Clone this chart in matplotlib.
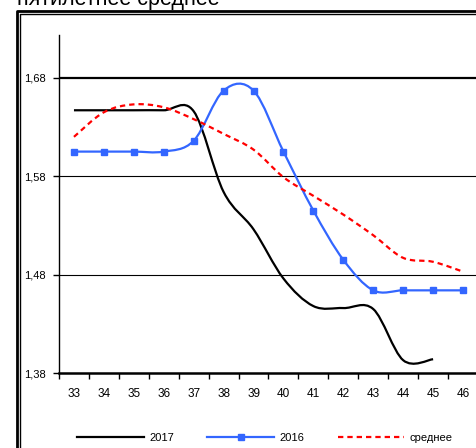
import matplotlib
matplotlib.use("Agg")
import matplotlib.pyplot as plt
from matplotlib.path import Path
from matplotlib.patches import PathPatch
from matplotlib.lines import Line2D
import numpy as np

plt.rcParams["font.family"] = ["Liberation Sans", "DejaVu Sans"]

# week numbers on the x axis
weeks = ["33", "34", "35", "36", "37", "38", "39", "40", "41", "42", "43", "44", "45", "46"]

# values
vals_2017 = [1.647, 1.647, 1.647, 1.647, 1.646, 1.564, 1.526, 1.476, 1.448, 1.446, 1.445, 1.393, 1.394]
vals_2016 = [1.605, 1.605, 1.605, 1.605, 1.616, 1.667, 1.667, 1.605, 1.545, 1.495, 1.464, 1.464, 1.464, 1.464]
vals_mean = [1.620, 1.645, 1.653, 1.650, 1.638, 1.623, 1.607, 1.579, 1.560, 1.541, 1.520, 1.497, 1.493, 1.483]

yticks = [1.38, 1.48, 1.58, 1.68]
ytick_labels = ["1,38", "1,48", "1,58", "1,68"]


def smooth_path(y):
    # excel-like smoothed line: catmull-rom segments as cubic bezier
    y = np.asarray(y, dtype=float)
    x = np.arange(len(y), dtype=float)
    pts = np.column_stack([x, y])
    ext = np.vstack([pts[0], pts, pts[-1]])
    verts = [pts[0]]
    codes = [Path.MOVETO]
    for i in range(len(pts) - 1):
        p0, p1, p2, p3 = ext[i], ext[i + 1], ext[i + 2], ext[i + 3]
        verts += [p1 + (p2 - p0) / 6, p2 - (p3 - p1) / 6, p2]
        codes += [Path.CURVE4] * 3
    return Path(verts, codes)


W, H = 477, 448
fig = plt.figure(figsize=(W / 100, H / 100), dpi=100)

# double frame around the chart area
for xs, ys, lw in [([17, 17, W + 5], [H + 5, 11, 11], 2.0), ([20, 20, W + 5], [H + 5, 14, 14], 1.0)]:
    fig.add_artist(Line2D([v / W for v in xs], [1 - v / H for v in ys], color="black", lw=lw,
                          transform=fig.transFigure))

# title sits mostly above the picture, as in the original screenshot
fig.text(17 / W, 1 - 4.5 / H, "пятилетнее среднее", fontsize=15.5, va="baseline", ha="left")

left, right, bottom, top = 59, 478, 373, 35
ax = fig.add_axes([left / W, 1 - bottom / H, (right - left) / W, (bottom - top) / H])
ax.set_xlim(-0.5, len(weeks) - 0.5)
ax.set_ylim(1.38, 1.38 + (bottom - top) / 984)

# horizontal grid lines
ax.axhline(1.48, color="black", lw=0.8, zorder=1)
ax.axhline(1.58, color="black", lw=0.8, zorder=1)
ax.axhline(1.68, color="black", lw=1.6, zorder=1)

ax.add_patch(PathPatch(smooth_path(vals_2017), fill=False, edgecolor="black", lw=1.6, zorder=3))
ax.add_patch(PathPatch(smooth_path(vals_2016), fill=False, edgecolor="#3366ff", lw=1.6, zorder=4))
ax.plot(range(len(vals_2016)), vals_2016, "s", color="#3366ff", ms=4.5, zorder=5)
ax.add_patch(PathPatch(smooth_path(vals_mean), fill=False, edgecolor="#ff0000", lw=1.6,
                       linestyle=(0, (2.4, 1.8)), zorder=6))

ax.spines["top"].set_visible(False)
ax.spines["right"].set_visible(False)
ax.spines["left"].set_linewidth(1.0)
ax.spines["bottom"].set_linewidth(1.8)

ax.set_yticks(yticks)
ax.set_yticklabels(ytick_labels)
ax.tick_params(axis="y", length=4, width=1, pad=5.5, labelsize=8)

ax.set_xticks(range(len(weeks)))
ax.set_xticklabels(weeks)
ax.set_xticks(np.arange(-0.5, len(weeks)), minor=True)
ax.tick_params(axis="x", which="major", length=0, pad=11, labelsize=8.5)
ax.tick_params(axis="x", which="minor", length=4, width=1)

handles = [
    Line2D([0], [0], color="black", lw=1.6, label="2017"),
    Line2D([0], [0], color="#3366ff", lw=1.6, marker="s", ms=4, label="2016"),
    Line2D([0], [0], color="#ff0000", lw=1.6, linestyle=(0, (2.4, 1.8)), label="среднее"),
]
fig.legend(handles=handles, loc="center", bbox_to_anchor=(265 / W, 1 - 438 / H), ncol=3,
           frameon=False, fontsize=8, handlelength=6, handletextpad=0.5, columnspacing=3.0,
           numpoints=1, borderpad=0)

fig.savefig("out.png", dpi=100)
